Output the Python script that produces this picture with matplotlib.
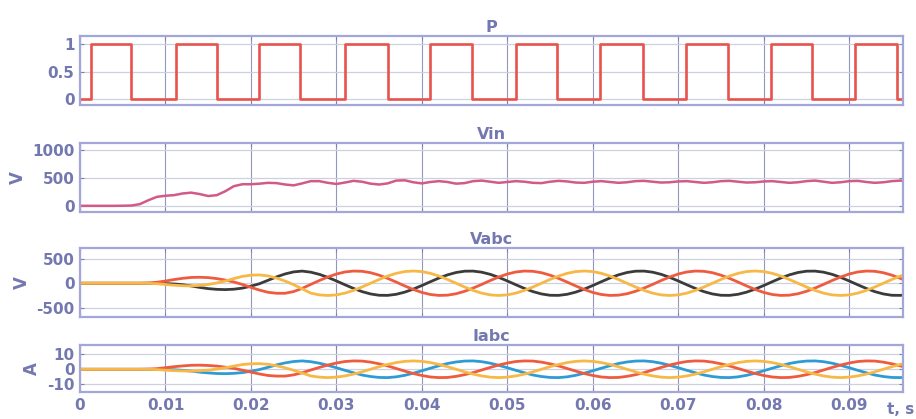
import numpy as np
import matplotlib
matplotlib.use("Agg")
import matplotlib.pyplot as plt
from matplotlib.ticker import FixedLocator, FuncFormatter

# ---------------- data ----------------
t_ms = list(range(0, 98))  # sample instants in ms

P_rise = [0.00123, 0.0112, 0.0210, 0.0310, 0.0410, 0.0510, 0.0609, 0.0709, 0.0808, 0.0907]
P_fall = [0.0060, 0.0160, 0.0258, 0.0360, 0.0459, 0.0558, 0.0659, 0.0758, 0.0857, 0.0956]

Vin = [0, 0, 0, 0, 0, 2, 5, 30, 100, 160, 180, 190, 220, 235, 210, 175, 190, 260, 350, 385,
       385, 395, 410, 405, 380, 365, 400, 440, 440, 410, 390, 415, 445, 430, 395, 380, 400, 450,
       455, 420, 400, 425, 440, 425, 395, 405, 440, 450, 430, 410, 425, 440, 430, 410, 405, 430,
       445, 435, 415, 410, 430, 440, 425, 410, 420, 440, 445, 430, 415, 420, 435, 440, 425, 410,
       420, 440, 445, 430, 415, 420, 435, 440, 425, 410, 420, 440, 450, 430, 410, 420, 440, 445,
       425, 410, 420, 440, 450, 440]

Va = [0, 0, 0, 0, 0, 0, 0, 0,
      0, -3, -8, -15, -30, -55, -85, -110, -125, -130, -122, -100, -60, -10, 60, 130, 190, 232, 248,
      226, 182, 120, 47, -31, -106, -171, -219, -246, -248, -226, -182, -120, -47, 31, 106, 171, 219, 246, 248,
      226, 182, 120, 47, -31, -106, -171, -219, -246, -248, -226, -182, -120, -47, 31, 106, 171, 219, 246, 248,
      226, 182, 120, 47, -31, -106, -171, -219, -246, -248, -226, -182, -120, -47, 31, 106, 171, 219, 246, 248,
      226, 182, 120, 47, -31, -106, -171, -219, -246, -248, -226]
Vb = [0, 0, 0, 0, 0, 0, 0, 0,
      5, 20, 45, 75, 100, 118, 122, 115, 95, 65, 25, -25, -85, -140, -185, -205, -205, -170, -105,
      -24, 55, 127, 188, 230,
      249, 244, 215, 165, 99, 24, -55, -127, -188, -230, -249, -244, -215, -165, -99, -24, 55, 127, 188, 230,
      249, 244, 215, 165, 99, 24, -55, -127, -188, -230, -249, -244, -215, -165, -99, -24, 55, 127, 188, 230,
      249, 244, 215, 165, 99, 24, -55, -127, -188, -230, -249, -244, -215, -165, -99, -24, 55, 127, 188, 230,
      249, 244, 215, 165, 99, 24]
Vc = [0, 0, 0, 0, 0, 0, 0, 0,
      -2, -10, -25, -40, -50, -55, -45, -25, 5, 45, 95, 140, 165, 170, 150, 105, 45, -30, -115,
      -202, -238, -250, -238, -202, -147, -77, 0, 77, 147, 202, 238,
      250, 238, 202, 147, 77, 0, -77, -147, -202, -238, -250, -238, -202, -147, -77, 0, 77, 147, 202, 238,
      250, 238, 202, 147, 77, 0, -77, -147, -202, -238, -250, -238, -202, -147, -77, 0, 77, 147, 202, 238,
      250, 238, 202, 147, 77, 0, -77, -147, -202, -238, -250, -238, -202, -147, -77, 0, 77, 147, 202]

Ia = [0, 0, 0, 0, 0, 0, 0, 0,
      0, -0.1, -0.2, -0.3, -0.7, -1.2, -1.9, -2.4, -2.8, -2.9, -2.7, -2.2, -1.3, -0.2, 1.3, 2.9, 4.2, 5.1, 5.5,
      5.0, 4.0, 2.6, 1.0, -0.7, -2.3, -3.8, -4.8, -5.4, -5.5, -5.0, -4.0, -2.6, -1.0, 0.7, 2.3, 3.8, 4.8, 5.4, 5.5,
      5.0, 4.0, 2.6, 1.0, -0.7, -2.3, -3.8, -4.8, -5.4, -5.5, -5.0, -4.0, -2.6, -1.0, 0.7, 2.3, 3.8, 4.8, 5.4, 5.5,
      5.0, 4.0, 2.6, 1.0, -0.7, -2.3, -3.8, -4.8, -5.4, -5.5, -5.0, -4.0, -2.6, -1.0, 0.7, 2.3, 3.8, 4.8, 5.4, 5.5,
      5.0, 4.0, 2.6, 1.0, -0.7, -2.3, -3.8, -4.8, -5.4, -5.5, -5.0]
Ib = [0, 0, 0, 0, 0, 0, 0, 0,
      0.1, 0.4, 1.0, 1.7, 2.2, 2.6, 2.7, 2.5, 2.1, 1.4, 0.6, -0.6, -1.9, -3.1, -4.1, -4.5, -4.5, -3.7, -2.3,
      -0.5, 1.2, 2.8, 4.1, 5.1,
      5.5, 5.4, 4.7, 3.6, 2.2, 0.5, -1.2, -2.8, -4.1, -5.1, -5.5, -5.4, -4.7, -3.6, -2.2, -0.5, 1.2, 2.8, 4.1, 5.1,
      5.5, 5.4, 4.7, 3.6, 2.2, 0.5, -1.2, -2.8, -4.1, -5.1, -5.5, -5.4, -4.7, -3.6, -2.2, -0.5, 1.2, 2.8, 4.1, 5.1,
      5.5, 5.4, 4.7, 3.6, 2.2, 0.5, -1.2, -2.8, -4.1, -5.1, -5.5, -5.4, -4.7, -3.6, -2.2, -0.5, 1.2, 2.8, 4.1, 5.1,
      5.5, 5.4, 4.7, 3.6, 2.2, 0.5]
Ic = [0, 0, 0, 0, 0, 0, 0, 0,
      0, -0.2, -0.6, -0.9, -1.1, -1.2, -1.0, -0.6, 0.1, 1.0, 2.1, 3.1, 3.6, 3.7, 3.3, 2.3, 1.0, -0.7, -2.5,
      -4.4, -5.2, -5.5, -5.2, -4.4, -3.2, -1.7, 0, 1.7, 3.2, 4.4, 5.2,
      5.5, 5.2, 4.4, 3.2, 1.7, 0, -1.7, -3.2, -4.4, -5.2, -5.5, -5.2, -4.4, -3.2, -1.7, 0, 1.7, 3.2, 4.4, 5.2,
      5.5, 5.2, 4.4, 3.2, 1.7, 0, -1.7, -3.2, -4.4, -5.2, -5.5, -5.2, -4.4, -3.2, -1.7, 0, 1.7, 3.2, 4.4, 5.2,
      5.5, 5.2, 4.4, 3.2, 1.7, 0, -1.7, -3.2, -4.4, -5.2, -5.5, -5.2, -4.4, -3.2, -1.7, 0, 1.7, 3.2, 4.4]

x_ticks = [0, 0.01, 0.02, 0.03, 0.04, 0.05, 0.06, 0.07, 0.08, 0.09]
x_tick_labels = ["0", "0.01", "0.02", "0.03", "0.04", "0.05", "0.06", "0.07", "0.08", "0.09"]
titles = ["P", "Vin", "Vabc", "Iabc"]

# ---------------- styling ----------------
TXT = "#7478b0"
FRAME = "#a3a6d8"
XGRID = "#9396bf"
YGRID = "#cfd0de"
C_P = "#e9534d"
C_VIN = "#d25a88"
C_BLACK = "#3b3b3b"
C_RED = "#ef5b3f"
C_YEL = "#f6b846"
C_BLUE = "#2e9bd5"

plt.rcParams['font.family'] = ['DejaVu Sans']
plt.rcParams['font.weight'] = 'bold'

t = np.array(t_ms) / 1000.0
XMAX = 0.0963

# P step curve from the edge lists
pt = [0.0]
pv = [0.0]
for r, f in zip(P_rise, P_fall):
    pt += [r, r, f, f]
    pv += [0, 1, 1, 0]
pt.append(XMAX)
pv.append(0)

fig = plt.figure(figsize=(9.16, 4.19), dpi=100)
W = 916.0
H = 419.0
left = 80 / W
width = (903 - 80) / W
boxes = [(36, 105), (143, 212), (248, 317), (345, 392)]
axes = []
for (top, bot) in boxes:
    ax = fig.add_axes([left, 1 - bot / H, width, (bot - top) / H])
    axes.append(ax)

def style(ax, yticks, ylim, ylab, title, show_x):
    ax.set_xlim(0, XMAX)
    ax.set_ylim(*ylim)
    ax.xaxis.set_major_locator(FixedLocator(x_ticks))
    ax.yaxis.set_major_locator(FixedLocator(yticks))
    ax.yaxis.set_major_formatter(FuncFormatter(lambda v, p: "%g" % v))
    ax.grid(True, axis='x', color=XGRID, lw=0.8)
    ax.grid(True, axis='y', color=YGRID, lw=0.9)
    ax.set_axisbelow(True)
    for s in ax.spines.values():
        s.set_color(FRAME)
        s.set_linewidth(1.6)
    ax.tick_params(direction='in', top=True, right=True, length=3, width=0.8,
                   color="#7d80b0", labelcolor=TXT, labelsize=11, pad=4)
    if show_x:
        ax.set_xticklabels(x_tick_labels, fontweight='bold')
    else:
        ax.tick_params(labelbottom=False)
    for lab in ax.get_yticklabels():
        lab.set_fontweight('bold')
    ax.set_title(title, color=TXT, fontsize=11.5, fontweight='bold', pad=3)
    if ylab:
        ax.set_ylabel(ylab, color=TXT, fontsize=12, fontweight='bold', labelpad=4)

ax = axes[0]
ax.plot(pt, pv, color=C_P, lw=1.9, solid_joinstyle='round')
style(ax, [0, 0.5, 1], (-0.11, 1.15), None, titles[0], False)

ax = axes[1]
ax.plot(t, Vin, color=C_VIN, lw=1.8)
style(ax, [0, 500, 1000], (-110, 1120), "V", titles[1], False)

ax = axes[2]
ax.plot(t, Va, color=C_BLACK, lw=2.0)
ax.plot(t, Vb, color=C_RED, lw=2.0)
ax.plot(t, Vc, color=C_YEL, lw=2.0)
style(ax, [-500, 0, 500], (-690, 720), "V", titles[2], False)

ax = axes[3]
ax.plot(t, Ia, color=C_BLUE, lw=2.0)
ax.plot(t, Ib, color=C_RED, lw=2.0)
ax.plot(t, Ic, color=C_YEL, lw=2.0)
style(ax, [-10, 0, 10], (-15, 16), "A", titles[3], True)

fig.text(914 / W, 1 - 409 / H, "t, s", color=TXT, fontsize=11, fontweight='bold',
         ha='right', va='center')

fig.savefig("out.png", dpi=100)
